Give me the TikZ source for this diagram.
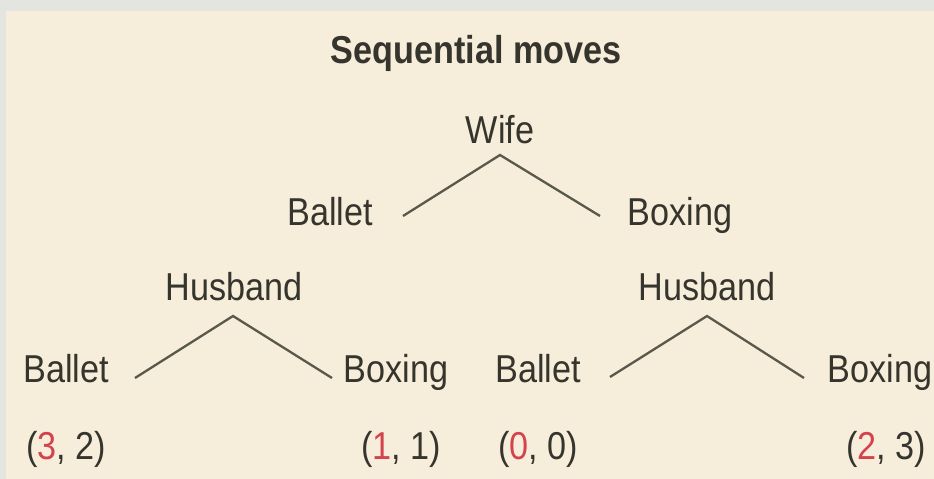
\documentclass[tikz,border=0pt]{standalone}
\usepackage{fontspec}
\setmainfont{Liberation Sans}
\usepackage{graphicx}
\definecolor{paper}{HTML}{F6EEDB}
\definecolor{frame}{HTML}{E4E4E1}
\definecolor{ink}{HTML}{35342D}
\definecolor{branch}{HTML}{5A584A}
\definecolor{payred}{HTML}{D4434B}
\newcommand{\narrow}[1]{\scalebox{0.95}[1.08]{#1}}
\tikzset{
  lbl/.style={anchor=base, inner sep=0pt, text=ink,
    font=\fontsize{36}{40}\selectfont},
  ttl/.style={lbl, font=\fontsize{36}{40}\selectfont\bfseries},
  edge/.style={draw=branch, line width=2.3pt, line cap=butt, line join=miter}
}
\begin{document}
\begin{tikzpicture}[x=1pt, y=-1pt]
  % background and thin grey frame strips
  \fill[frame] (0,0) rectangle (934,479);
  \fill[paper] (6,11) rectangle (934,479);
  \useasboundingbox (0,0) rectangle (934,479);

  % title
  \node[ttl] (title) at (476,63) {\narrow{Sequential moves}};

  % first mover
  \node[lbl] (wife) at (500,143) {\narrow{Wife}};
  \node[lbl] (wballet) at (330,225) {\narrow{Ballet}};
  \node[lbl] (wboxing) at (680,225) {\narrow{Boxing}};

  % second mover
  \node[lbl] (hleft) at (234,300) {\narrow{Husband}};
  \node[lbl] (hright) at (707,300) {\narrow{Husband}};

  % second-stage choices
  \node[lbl] (lballet) at (66,382) {\narrow{Ballet}};
  \node[lbl] (lboxing) at (396,382) {\narrow{Boxing}};
  \node[lbl] (rballet) at (538,382) {\narrow{Ballet}};
  \node[lbl] (rboxing) at (880,382) {\narrow{Boxing}};

  % payoffs (wife, husband)
  \node[lbl] (p1) at (66,459) {\narrow{(\textcolor{payred}{3}, 2)}};
  \node[lbl] (p2) at (401,459) {\narrow{(\textcolor{payred}{1}, 1)}};
  \node[lbl] (p3) at (538,459) {\narrow{(\textcolor{payred}{0}, 0)}};
  \node[lbl] (p4) at (886,459) {\narrow{(\textcolor{payred}{2}, 3)}};

  % branch end points
  \coordinate (wapex) at (500,155);
  \coordinate (wl) at (403,216);
  \coordinate (wr) at (600,216);
  \coordinate (hlapex) at (233,316);
  \coordinate (hll) at (135,378);
  \coordinate (hlr) at (332,378);
  \coordinate (hrapex) at (707,316);
  \coordinate (hrl) at (610,377);
  \coordinate (hrr) at (804,378);

  % branches
  \draw[edge] (wl) -- (wapex) -- (wr);
  \draw[edge] (hll) -- (hlapex) -- (hlr);
  \draw[edge] (hrl) -- (hrapex) -- (hrr);
\end{tikzpicture}
\end{document}
